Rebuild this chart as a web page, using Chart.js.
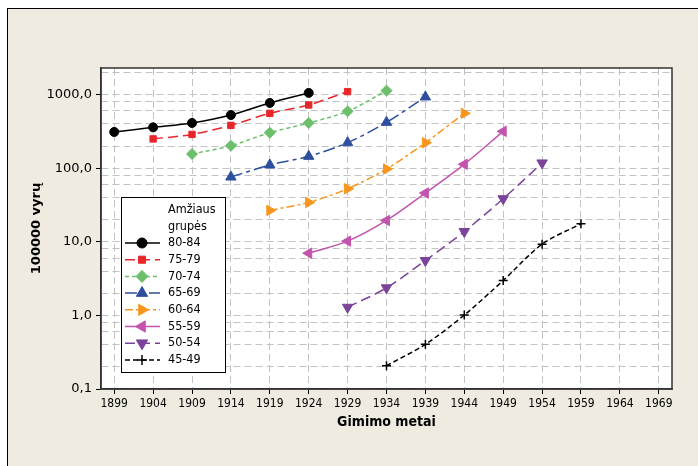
<!DOCTYPE html>
<html>
<head>
<meta charset="utf-8">
<script src="https://cdn.jsdelivr.net/npm/chart.js@4"></script>
<style>
  html, body { margin: 0; padding: 0; background: #ffffff; }
  body { width: 698px; height: 466px; position: relative; overflow: hidden; }
  #frame { position: absolute; left: 7px; top: 8px; width: 720px; height: 480px;
           background: #efebe0; border-left: 1.5px solid #000; border-top: 1.5px solid #000; }
  #c { position: absolute; left: 0; top: 0; }
</style>
</head>
<body>
<div id="frame"></div>
<canvas id="c" width="698" height="466"></canvas>
<script>
// ---- data ----
const years = [1899, 1904, 1909, 1914, 1919, 1924, 1929, 1934, 1939, 1944, 1949, 1954, 1959, 1964, 1969];
const ageGroups = ['80-84', '75-79', '70-74', '65-69', '60-64', '55-59', '50-54', '45-49'];
const startYears = [1899, 1904, 1909, 1914, 1919, 1924, 1929, 1934];
const v80_84 = [311, 359, 412, 528, 771, 1055];
const v75_79 = [250, 288, 382, 557, 723, 1099];
const v70_74 = [156, 202, 304, 412, 593, 1133];
const v65_69 = [75.9, 110.6, 145, 222, 420, 929];
const v60_64 = [26.7, 34.3, 52.6, 97.5, 222, 557];
const v55_59 = [7.0, 10.2, 19.5, 46, 113, 317];
const v50_54 = [1.29, 2.37, 5.57, 13.8, 38.5, 118];
const v45_49 = [0.207, 0.405, 1.01, 2.98, 9.3, 17.6];
const seriesValues = [v80_84, v75_79, v70_74, v65_69, v60_64, v55_59, v50_54, v45_49];
const yMajorTicks = [0.1, 1, 10, 100, 1000];
const yGridTicks = [0.1, 0.2, 0.4, 0.6, 0.8, 1, 2, 4, 6, 8, 10, 20, 40, 60, 80, 100, 200, 400, 600, 800, 1000, 2000];
const xTitle = 'Gimimo metai';
const yTitle = '100000 vyrų';
const legendTitle = ['Amžiaus', 'grupės'];

// ---- styles ----
const styles = [
  { color: '#000000', point: 'circle',   rot: 0,   r: 4.5, dash: [] },
  { color: '#e8262a', point: 'rect',     rot: 0,   r: 4.5, dash: [10, 5] },
  { color: '#6cc06c', point: 'rectRot',  rot: 0,   r: 5.5, dash: [4, 3] },
  { color: '#2e4f9f', point: 'triangle', rot: 0,   r: 6,   dash: [12, 4, 4, 4] },
  { color: '#f7961e', point: 'triangle', rot: 90,  r: 6,   dash: [8, 3, 3, 3] },
  { color: '#c354ae', point: 'triangle', rot: 270, r: 6,   dash: [] },
  { color: '#7b439a', point: 'triangle', rot: 180, r: 6,   dash: [10, 5] },
  { color: '#000000', point: 'cross',    rot: 0,   r: 4.5, dash: [5, 3] }
];

const datasets = ageGroups.map((label, i) => {
  const s0 = years.indexOf(startYears[i]);
  const st = styles[i];
  return {
    label,
    data: seriesValues[i].map((v, k) => ({ x: years[s0 + k], y: v })),
    borderColor: st.color,
    backgroundColor: st.color,
    borderWidth: 1.5,
    borderDash: st.dash,
    pointStyle: st.point,
    pointRotation: st.rot,
    pointRadius: st.r,
    pointBorderWidth: st.point === 'cross' ? 1.5 : 1,
    pointBorderColor: st.color,
    pointBackgroundColor: st.color,
    tension: 0.3,
    fill: false
  };
});

const labelFont = "'DejaVu Sans Condensed', 'Liberation Sans', sans-serif";

const plotBg = {
  id: 'plotBg',
  beforeDraw(chart) {
    const { ctx, chartArea: a } = chart;
    ctx.save();
    ctx.fillStyle = '#ffffff';
    ctx.fillRect(a.left, a.top, a.right - a.left, a.bottom - a.top);
    ctx.restore();
  },
  afterDraw(chart) {
    const { ctx, chartArea: a } = chart;
    ctx.save();
    ctx.strokeStyle = '#333333';
    ctx.lineWidth = 1.5;
    ctx.strokeRect(a.left, a.top, a.right - a.left, a.bottom - a.top);
    ctx.restore();
  }
};

const boxLegend = {
  id: 'boxLegend',
  afterDraw(chart) {
    const ctx = chart.ctx;
    const L = 121, T = 197, W = 104, H = 175;
    ctx.save();
    ctx.fillStyle = '#ffffff';
    ctx.fillRect(L, T, W, H);
    ctx.strokeStyle = '#000000';
    ctx.lineWidth = 1;
    ctx.strokeRect(L + 0.5, T + 0.5, W, H);
    ctx.fillStyle = '#000000';
    ctx.font = "12.5px " + labelFont;
    ctx.textBaseline = 'middle';
    ctx.textAlign = 'left';
    ctx.fillText(legendTitle[0], 168, 210);
    ctx.fillText(legendTitle[1], 168, 227);
    chart.data.datasets.forEach((ds, i) => {
      const y = 243 + i * 16.7;
      ctx.save();
      ctx.strokeStyle = ds.borderColor;
      ctx.lineWidth = 1.5;
      ctx.setLineDash(ds.borderDash);
      ctx.beginPath();
      ctx.moveTo(125, y);
      ctx.lineTo(160, y);
      ctx.stroke();
      ctx.setLineDash([]);
      ctx.fillStyle = ds.pointBackgroundColor;
      ctx.strokeStyle = ds.pointBorderColor;
      ctx.lineWidth = ds.pointBorderWidth;
      Chart.helpers.drawPoint(ctx, {
        pointStyle: ds.pointStyle, rotation: ds.pointRotation,
        radius: ds.pointRadius + 0.5, borderWidth: ds.pointBorderWidth
      }, 142, y);
      ctx.restore();
      ctx.fillStyle = '#000000';
      ctx.fillText(ds.label, 168, y);
    });
    ctx.restore();
  }
};

new Chart(document.getElementById('c'), {
  type: 'line',
  data: { datasets },
  plugins: [plotBg, boxLegend],
  options: {
    responsive: false,
    animation: false,
    devicePixelRatio: 1,
    layout: { padding: { top: 68, right: 26, left: 0, bottom: 0 } },
    plugins: { legend: { display: false }, tooltip: { enabled: false } },
    scales: {
      x: {
        type: 'linear',
        min: 1897.3,
        max: 1970.7,
        afterBuildTicks(scale) { scale.ticks = years.map(v => ({ value: v })); },
        afterFit(scale) { scale.height = 77; scale.paddingLeft = 0; scale.paddingRight = 0; },
        ticks: {
          callback: v => String(v),
          color: '#000000',
          font: { family: labelFont, size: 12 },
          padding: 3,
          maxRotation: 0,
          autoSkip: false
        },
        grid: {
          color: '#c3c3c3',
          lineWidth: 1,
          tickLength: 5,
          tickColor: '#000000',
          tickBorderDash: []
        },
        border: { display: true, color: '#333333', width: 1.5, dash: [7, 4] },
        title: {
          display: true,
          text: xTitle,
          color: '#000000',
          font: { family: labelFont, size: 14, weight: 'bold' },
          padding: { top: 0, bottom: 35 }
        }
      },
      y: {
        type: 'logarithmic',
        min: 0.1,
        max: 2300,
        afterBuildTicks(scale) { scale.ticks = yGridTicks.map(v => ({ value: v })); },
        afterFit(scale) { scale.width = 101; scale.paddingTop = 0; scale.paddingBottom = 0; },
        ticks: {
          callback: v => (yMajorTicks.includes(v) ? v.toFixed(1).replace('.', ',') : ''),
          color: '#000000',
          font: { family: "'DejaVu Sans', sans-serif", size: 13 },
          padding: 4,
          autoSkip: false
        },
        grid: {
          color: '#c3c3c3',
          lineWidth: 1,
          tickLength: 5,
          tickColor: ctx => (ctx.tick && yMajorTicks.includes(ctx.tick.value) ? '#000000' : 'rgba(0,0,0,0)'),
          tickBorderDash: []
        },
        border: { display: true, color: '#333333', width: 1.5, dash: [7, 4] },
        title: {
          display: true,
          text: yTitle,
          color: '#000000',
          font: { family: "'DejaVu Sans', sans-serif", size: 13, weight: 'bold' },
          padding: { top: 29, bottom: 0 }
        }
      }
    }
  }
});
</script>
</body>
</html>
